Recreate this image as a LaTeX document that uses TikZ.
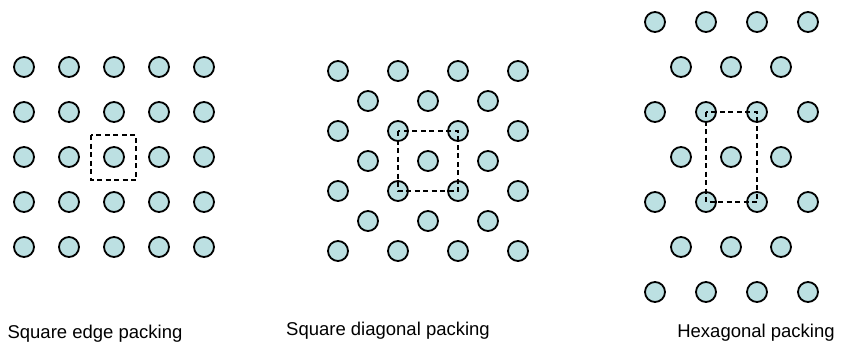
\documentclass[tikz,border=0pt]{standalone}
\usepackage{fontspec}
\setmainfont{Liberation Sans}
\usetikzlibrary{calc}
\definecolor{ballfill}{RGB}{188,224,226}
\begin{document}
\begin{tikzpicture}[x=1pt,y=-1pt,
  ball/.style={circle,draw=black,line width=1.8pt,fill=ballfill,minimum size=20pt,inner sep=0pt},
  cell/.style={draw=black,line width=1.8pt,dash pattern=on 5pt off 3.5pt},
  lbl/.style={font=\fontsize{18.5pt}{22pt}\selectfont,inner sep=0pt}]
\useasboundingbox (0,0) rectangle (842,354);
% Square edge packing
\foreach \i in {0,...,4}{
  \foreach \j in {0,...,4}{
    \node[ball] (sq-\i-\j) at ({24+45*\i},{67+45*\j}) {};
  }
}
\draw[cell] ($(sq-2-2)+(-23,-22)$) rectangle ($(sq-2-2)+(22,23)$);
% Square diagonal packing
\foreach \j in {0,2,4,6}{
  \foreach \i in {0,...,3}{
    \node[ball] (dg-\i-\j) at ({338+60*\i},{71+30*\j}) {};
  }
}
\foreach \j in {1,3,5}{
  \foreach \i in {0,...,2}{
    \node[ball] (dg-\i-\j) at ({368+60*\i},{71+30*\j}) {};
  }
}
\draw[cell] (dg-1-2.center) rectangle (dg-2-4.center);
% Hexagonal packing
\foreach \j in {0,2,4,6}{
  \foreach \i in {0,...,3}{
    \node[ball] (hx-\i-\j) at ({655+51*\i},{22+45*\j}) {};
  }
}
\foreach \j in {1,3,5}{
  \foreach \i in {0,...,2}{
    \node[ball] (hx-\i-\j) at ({681+50*\i},{22+45*\j}) {};
  }
}
\draw[cell] (hx-1-2.center) rectangle (hx-2-4.center);
% Labels
\node[lbl] (l1) at (95,334) {Square edge packing};
\node[lbl] (l2) at (388,331) {Square diagonal packing};
\node[lbl] (l3) at (756,333) {Hexagonal packing};
\end{tikzpicture}
\end{document}
